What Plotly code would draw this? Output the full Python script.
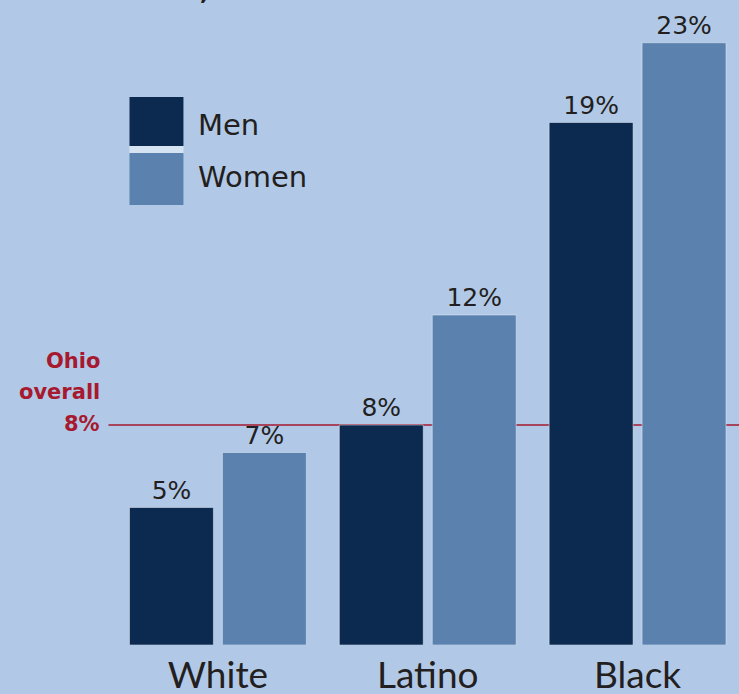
import plotly.graph_objects as go

categories = ["White", "Latino", "Black"]
men_values = [5, 8, 19]
women_values = [7, 12, 21.9]
men_labels = ["5%", "8%", "19%"]
women_labels = ["7%", "12%", "23%"]
ohio_overall = 8

BG = "#B1C9E7"
MEN = "#0C2A50"
WOMEN = "#5B82AE"
RED = "#A6192E"
TXT = "#231F20"
FONT = "'DejaVu Sans', sans-serif"
CATFONT = "Lato, 'DejaVu Sans', sans-serif"

W, H = 739, 694
L, B = 112.5, 49
pw = W - L
ph = H - B
ppu = 27.5
unit = 210.0

fig = go.Figure()
fig.add_trace(go.Bar(x=categories, y=men_values, name="Men", marker_color=MEN,
                     width=84 / unit, offset=(129 - 217.5) / unit,
                     text=men_labels, textposition="outside", cliponaxis=False,
                     textfont=dict(size=25, color=TXT, family=FONT), showlegend=False))
fig.add_trace(go.Bar(x=categories, y=women_values, name="Women", marker_color=WOMEN,
                     width=84 / unit, offset=(222 - 217.5) / unit,
                     text=women_labels, textposition="outside", cliponaxis=False,
                     textfont=dict(size=25, color=TXT, family=FONT), showlegend=False))


def px_x(x):
    return (x - L) / pw


def px_y(y):
    return (ph - y) / ph


shapes = [
    dict(type="line", xref="paper", yref="y", x0=px_x(108), x1=1, y0=ohio_overall, y1=ohio_overall,
         line=dict(color=RED, width=1.5), layer="below"),
    dict(type="rect", xref="paper", yref="paper", x0=px_x(129), x1=px_x(183), y0=px_y(154), y1=px_y(145),
         fillcolor="#D6E3F2", line=dict(width=0)),
    dict(type="rect", xref="paper", yref="paper", x0=px_x(129), x1=px_x(183), y0=px_y(146), y1=px_y(97),
         fillcolor=MEN, line=dict(width=0)),
    dict(type="rect", xref="paper", yref="paper", x0=px_x(129), x1=px_x(183), y0=px_y(205), y1=px_y(153),
         fillcolor=WOMEN, line=dict(width=0)),
]

annotations = [
    dict(xref="paper", yref="paper", x=px_x(196), y=px_y(125), text="Men", showarrow=False,
         xanchor="left", yanchor="middle", font=dict(size=29, color=TXT, family=FONT)),
    dict(xref="paper", yref="paper", x=px_x(196), y=px_y(177), text="Women", showarrow=False,
         xanchor="left", yanchor="middle", font=dict(size=29, color=TXT, family=FONT)),
    dict(xref="paper", yref="paper", x=px_x(101), y=px_y(361), text="<b>Ohio</b>", showarrow=False,
         xanchor="right", yanchor="middle", font=dict(size=21, color=RED, family=FONT)),
    dict(xref="paper", yref="paper", x=px_x(101), y=px_y(392), text="<b>overall</b>", showarrow=False,
         xanchor="right", yanchor="middle", font=dict(size=21, color=RED, family=FONT)),
    dict(xref="paper", yref="paper", x=px_x(101), y=px_y(424), text="<b>8%</b>", showarrow=False,
         xanchor="right", yanchor="middle", font=dict(size=21, color=RED, family=FONT)),
    dict(xref="paper", yref="paper", x=px_x(133), y=px_y(7), text="<b>Ohio, 2017</b>", showarrow=False,
         xanchor="left", yanchor="bottom", font=dict(size=25, color=TXT, family=FONT)),
]

fig.update_layout(
    width=W, height=H,
    paper_bgcolor=BG, plot_bgcolor=BG,
    margin=dict(l=L, r=0, t=0, b=B, autoexpand=False),
    barmode="overlay",
    shapes=shapes, annotations=annotations,
    xaxis=dict(range=[-0.5, (W - 217.5) / unit], showgrid=False, zeroline=False, showline=False,
               tickfont=dict(size=37, color=TXT, family=CATFONT), ticks="", ticklen=0,
               ticklabelstandoff=5, automargin=False),
    yaxis=dict(range=[0, ph / ppu], visible=False, showgrid=False, zeroline=False, automargin=False),
)
fig.write_html("out.html", config={"displayModeBar": False},
               post_script="document.body.style.margin='0';document.body.style.overflow='hidden';")
